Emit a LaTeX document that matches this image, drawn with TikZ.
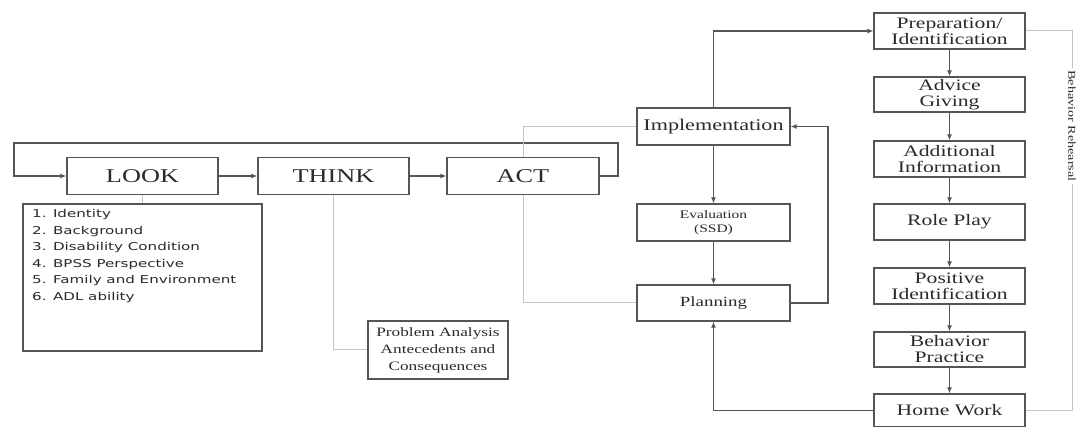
\documentclass[tikz,border=0pt]{standalone}
\usepackage{fontspec}
\setmainfont{Liberation Serif}[FakeStretch=1.35]
\newfontfamily\listfont{DejaVu Sans}[FakeStretch=1.4]
\usetikzlibrary{arrows.meta}
\definecolor{boxc}{HTML}{555555}
\definecolor{txtc}{HTML}{2A2A2A}
\definecolor{faint}{HTML}{C4C4C4}
\tikzset{
  box/.style={draw=boxc, line width=1.3pt, rectangle, inner sep=1pt, align=center, text=txtc},
  bigbox/.style={box, minimum width=151pt, minimum height=37pt, font=\fontsize{19.5}{22}\selectfont},
  colbox/.style={box, minimum width=151pt, minimum height=36pt, font=\fontsize{16}{16}\selectfont},
  midbox/.style={box, minimum width=153pt, minimum height=37pt},
  conn/.style={draw=boxc, line width=1.1pt},
  arr/.style={conn, -{Latex[length=6pt,width=5pt]}},
  gline/.style={draw=faint, line width=1pt}
}
\begin{document}
\begin{tikzpicture}[x=1pt,y=-1pt]
\useasboundingbox (0,0) rectangle (1085,427);
% LOOK THINK ACT
\node[bigbox] (look) at (142.5,176) {LOOK};
\node[bigbox] (think) at (333.5,176) {THINK};
\node[bigbox, minimum width=152pt] (act) at (523,176) {ACT};
\coordinate (la) at (618,176);
\coordinate (lb) at (618,143);
\coordinate (lc) at (14,143);
\coordinate (ld) at (14,176);
\draw[arr] (act.east) -- (la) -- (lb) -- (lc) -- (ld) -- (look.west);
\draw[arr] (look) -- (think);
\draw[arr] (think) -- (act);
% list
\node[box, minimum width=239pt, minimum height=147pt, line width=1.5pt] (list) at (142.5,277.5) {};
\node[anchor=north west, align=left, inner sep=0pt, text=txtc, font=\listfont\fontsize{10.8}{16.6}\selectfont] (listtext) at (32,209) {1. Identity\\2. Background\\3. Disability Condition\\4. BPSS Perspective\\5. Family and Environment\\6. ADL ability};
\draw[gline] (look.south) -- (list.north);
% problem analysis
\node[box, minimum width=140pt, minimum height=58pt, font=\fontsize{12.8}{17}\selectfont] (prob) at (438,350) {Problem Analysis\\Antecedents and\\Consequences};
\draw[gline] (think.south) |- (prob.west);
% middle column
\node[midbox, font=\fontsize{16.4}{18}\selectfont] (impl) at (713.5,126.5) {Implementation};
\node[midbox, font=\fontsize{11.5}{14}\selectfont] (eval) at (713.5,222.5) {Evaluation\\(SSD)};
\node[midbox, minimum height=36pt, font=\fontsize{14}{16}\selectfont] (plan) at (713.5,303) {Planning};
\draw[gline] (act.north) |- (impl.west);
\draw[gline] (act.south) |- (plan.west);
\draw[arr] (impl) -- (eval);
\draw[arr] (eval) -- (plan);
\coordinate (rloop) at (828,126.5);
\draw[arr] (plan.east) -| (rloop) -- (impl.east);
% right column
\node[colbox] (prep) at (949.5,31) {Preparation/\\Identification};
\node[colbox, minimum height=35pt] (adv) at (949.5,94.5) {Advice\\Giving};
\node[colbox] (add) at (949.5,159) {Additional\\Information};
\node[colbox] (role) at (949.5,222) {Role Play};
\node[colbox] (pos) at (949.5,286) {Positive\\Identification};
\node[colbox, minimum height=35pt] (bp) at (949.5,349.5) {Behavior\\Practice};
\node[colbox, minimum height=33pt] (hw) at (949.5,410.5) {Home Work};
\draw[arr] (impl.north) |- (prep.west);
\draw[arr] (prep) -- (adv);
\draw[arr] (adv) -- (add);
\draw[arr] (add) -- (role);
\draw[arr] (role) -- (pos);
\draw[arr] (pos) -- (bp);
\draw[arr] (bp) -- (hw);
\draw[arr] (hw.west) -| (plan.south);
% behavior rehearsal bracket
\coordinate (ba) at (1072,31);
\coordinate (bb) at (1072,410.5);
\draw[gline] (prep.east) -- (ba) -- (bb) -- (hw.east);
\node[fill=white, rotate=-90, inner sep=2pt, text=txtc, font=\fontsize{10.5}{12}\selectfont] (brlabel) at (1072,126) {Behavior Rehearsal};
\end{tikzpicture}
\end{document}
